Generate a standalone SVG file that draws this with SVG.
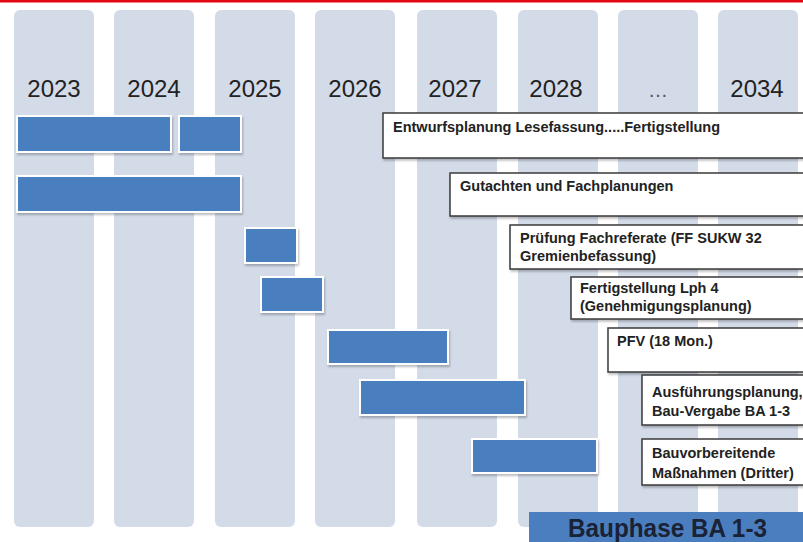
<svg xmlns="http://www.w3.org/2000/svg" width="803" height="542" viewBox="0 0 803 542">
<defs>
<filter id="sh" x="-10%" y="-10%" width="130%" height="140%">
<feDropShadow dx="1" dy="2" stdDeviation="1.2" flood-color="#000" flood-opacity="0.25"/>
</filter>
</defs>
<style>
.col{fill:#d3dbe9}
.yr{font-family:"Liberation Sans",Arial,sans-serif;font-size:24px;fill:#222;text-anchor:middle}
.bar{fill:#4a7ebf;stroke:#fff;stroke-width:2;filter:url(#sh)}
.box{fill:#fff;stroke:#3a3a3a;stroke-width:1.5;filter:url(#sh)}
.lbl{font-family:"Liberation Sans",Arial,sans-serif;font-size:14.5px;font-weight:bold;fill:#222}
.big{font-family:"Liberation Sans",Arial,sans-serif;font-size:26px;font-weight:bold;fill:#1a2236}
</style>
<rect x="0" y="0" width="803" height="542" fill="#fff"/>
<rect x="0" y="0" width="803" height="2.5" fill="#e30613"/>
<g id="columns">
<rect class="col" x="14" y="10" width="80" height="517" rx="6"/>
<rect class="col" x="114" y="10" width="80" height="517" rx="6"/>
<rect class="col" x="215" y="10" width="80" height="517" rx="6"/>
<rect class="col" x="315" y="10" width="80" height="517" rx="6"/>
<rect class="col" x="417" y="10" width="80" height="517" rx="6"/>
<rect class="col" x="518" y="10" width="80" height="517" rx="6"/>
<rect class="col" x="618" y="10" width="80" height="517" rx="6"/>
<rect class="col" x="718" y="10" width="80" height="517" rx="6"/>
</g>
<g id="years">
<text class="yr" x="54" y="97">2023</text>
<text class="yr" x="154" y="97">2024</text>
<text class="yr" x="255" y="97">2025</text>
<text class="yr" x="355" y="97">2026</text>
<text class="yr" x="455" y="97">2027</text>
<text class="yr" x="556" y="97">2028</text>
<text class="yr" x="658" y="97" style="font-size:20px;fill:#555">…</text>
<text class="yr" x="757" y="97">2034</text>
</g>
<g id="bars">
<rect class="bar" x="17" y="116" width="154" height="36"/>
<rect class="bar" x="179" y="116" width="62" height="36"/>
<rect class="bar" x="17" y="176" width="224" height="36"/>
<rect class="bar" x="245" y="228" width="52" height="35"/>
<rect class="bar" x="261" y="277" width="62" height="35"/>
<rect class="bar" x="328" y="330" width="120" height="34"/>
<rect class="bar" x="360" y="380" width="165" height="35"/>
<rect class="bar" x="472" y="439" width="125" height="34"/>
</g>
<g id="n1"><rect class="box" x="383" y="113" width="430" height="45"/><text class="lbl" x="393" y="132">Entwurfsplanung Lesefassung.....Fertigstellung</text></g>
<g id="n2"><rect class="box" x="450" y="173" width="363" height="43"/><text class="lbl" x="460" y="191">Gutachten und Fachplanungen</text></g>
<g id="n3"><rect class="box" x="510" y="225" width="303" height="44"/><text class="lbl" x="520" y="243">Prüfung Fachreferate (FF SUKW 32</text><text class="lbl" x="520" y="261">Gremienbefassung)</text></g>
<g id="n4"><rect class="box" x="571" y="277" width="242" height="42"/><text class="lbl" x="580" y="293">Fertigstellung Lph 4</text><text class="lbl" x="580" y="311">(Genehmigungsplanung)</text></g>
<g id="n5"><rect class="box" x="608" y="328" width="205" height="44"/><text class="lbl" x="617" y="346">PFV (18 Mon.)</text></g>
<g id="n6"><rect class="box" x="642" y="375" width="171" height="50"/><text class="lbl" x="652" y="397">Ausführungsplanung,</text><text class="lbl" x="652" y="416">Bau-Vergabe BA 1-3</text></g>
<g id="n7"><rect class="box" x="642" y="439" width="171" height="46"/><text class="lbl" x="652" y="458">Bauvorbereitende</text><text class="lbl" x="652" y="478">Maßnahmen (Dritter)</text></g>
<g id="n8"><rect x="529" y="512" width="284" height="40" fill="#4a7ebf"/><text class="big" x="568" y="537" textLength="199" lengthAdjust="spacingAndGlyphs">Bauphase BA 1-3</text></g>
<g id="connectors"></g>
</svg>
